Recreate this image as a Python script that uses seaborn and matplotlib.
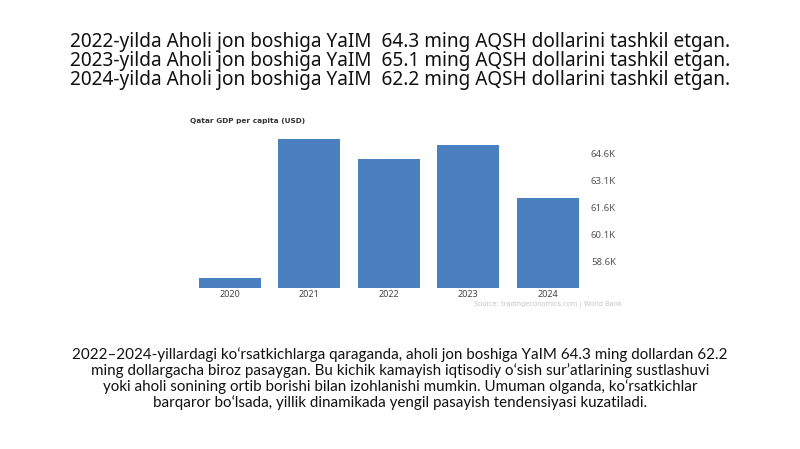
import matplotlib
matplotlib.use("Agg")
import matplotlib.pyplot as plt
import seaborn as sns
import pandas as pd

years = ["2020", "2021", "2022", "2023", "2024"]
gdp_k = [57.7, 65.4, 64.3, 65.05, 62.15]
tick_values = [58.6, 60.1, 61.6, 63.1, 64.6]
tick_labels = ["58.6K", "60.1K", "61.6K", "63.1K", "64.6K"]

title_lines = [
    "2022-yilda Aholi jon boshiga YaIM  64.3 ming AQSH dollarini tashkil etgan.",
    "2023-yilda Aholi jon boshiga YaIM  65.1 ming AQSH dollarini tashkil etgan.",
    "2024-yilda Aholi jon boshiga YaIM  62.2 ming AQSH dollarini tashkil etgan.",
]
paragraph_lines = [
    "2022–2024-yillardagi koʻrsatkichlarga qaraganda, aholi jon boshiga YaIM 64.3 ming dollardan 62.2",
    "ming dollargacha biroz pasaygan. Bu kichik kamayish iqtisodiy oʻsish surʼatlarining sustlashuvi",
    "yoki aholi sonining ortib borishi bilan izohlanishi mumkin. Umuman olganda, koʻrsatkichlar",
    "barqaror boʻlsada, yillik dinamikada yengil pasayish tendensiyasi kuzatiladi.",
]
chart_title = "Qatar GDP per capita (USD)"
source_text = "Source: tradingeconomics.com | World Bank"

sns.set_style("white")
plt.rcParams["font.family"] = ["Noto Sans", "DejaVu Sans"]

df = pd.DataFrame({"year": years, "gdp": gdp_k})

fig = plt.figure(figsize=(8, 4.49), dpi=100)
fig.patch.set_facecolor("white")

# Title block (one multi-line text)
fig.text(0.5, 1 - 61 / 449, "\n".join(title_lines), ha="center", va="center",
         multialignment="center", linespacing=0.95,
         fontsize=13.7, color="#111111", family=["Noto Sans", "DejaVu Sans"])

ax = fig.add_axes([190 / 800, 1 - 287.7 / 449, (587.4 - 190) / 800, (287.7 - 130) / 449])
sns.barplot(data=df, x="year", y="gdp", color="#4a7fc0", width=0.78, ax=ax,
            saturation=1, edgecolor="none")
ax.set_ylim(57.16, 65.89)
ax.set_xlim(-0.5, 4.5)
for s in ax.spines.values():
    s.set_visible(False)
ax.yaxis.tick_right()
ax.set_yticks(tick_values)
ax.set_yticklabels(tick_labels)
ax.tick_params(axis="y", length=0, pad=2.5, labelsize=6.9, labelcolor="#555555")
ax.tick_params(axis="x", length=0, pad=1.5, labelsize=6.5, labelcolor="#444444")
ax.set_xlabel("")
ax.set_ylabel("")
ax.grid(False)

fig.text(190 / 800, 1 - 121 / 449, chart_title, ha="left", va="center",
         fontsize=5.3, fontweight="bold", color="#333333", family=["DejaVu Sans"])
fig.text(622 / 800, 1 - 304 / 449, source_text, ha="right", va="center",
         fontsize=4.8, color="#c4c4c4", family=["DejaVu Sans"])

fig.text(0.5, 1 - (353.5 + 16.7 * 1.5) / 449, "\n".join(paragraph_lines), ha="center",
         va="center", multialignment="center", linespacing=1.1,
         fontsize=10.9, color="#111111", family=["Lato", "DejaVu Sans"])

fig.savefig("out.png", dpi=100, facecolor="white")
